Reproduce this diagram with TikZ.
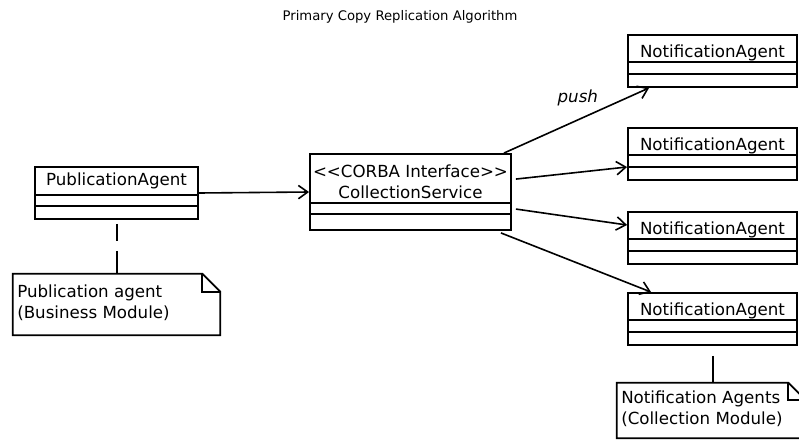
\documentclass[tikz,border=0pt]{standalone}
\usepackage{fontspec}
\setmainfont{DejaVu Sans}
\usetikzlibrary{arrows.meta,calc}
\begin{document}
\begin{tikzpicture}[x=0.75pt,y=-0.75pt,
  classbox/.style={draw,line width=1.4pt,minimum width=#1,inner sep=0pt,minimum height=39pt},
  notebox/.style={inner sep=0pt},
  lbl/.style={inner sep=0pt,font=\fontsize{12.5}{15.8}\selectfont},
  ttl/.style={inner sep=0pt,font=\fontsize{9.9}{12}\selectfont},
  comp/.style={line width=1.3pt},
  assoc/.style={line width=1.2pt,-{Straight Barb[length=7pt,width=10pt]}},
  anchorline/.style={line width=1.5pt}
]
\useasboundingbox (0,0) rectangle (799,439);
\fill[white] (0,0) rectangle (799,439);

% title
\node[ttl] (title) at (400,17) {Primary Copy Replication Algorithm};

% PublicationAgent
\node[classbox=122.25pt] (pa) at (116.5,193) {};
\node[lbl] (pat) at (116.5,181) {PublicationAgent};
\draw[comp] ($(pa.north west)+(0,29)$) -- ($(pa.north east)+(0,29)$);
\draw[comp] ($(pa.north west)+(0,40)$) -- ($(pa.north east)+(0,40)$);

% CollectionService
\node[classbox=150.75pt,minimum height=57pt] (cs) at (410.5,192) {};
\node[lbl,align=center] (cst) at (410.5,182) {{<}{<}CORBA Interface{>}{>}\\CollectionService};
\draw[comp] ($(cs.north west)+(0,50)$) -- ($(cs.north east)+(0,50)$);
\draw[comp] ($(cs.north west)+(0,61)$) -- ($(cs.north east)+(0,61)$);

% NotificationAgents
\foreach \n/\t in {1/35,2/128,3/212,4/293}{
  \node[classbox=126.75pt] (na\n) at (712.5,\t+26) {};
  \node[lbl] (na\n t) at (712.5,\t+18) {NotificationAgent};
  \draw[comp] ($(na\n.north west)+(0,28)$) -- ($(na\n.north east)+(0,28)$);
  \draw[comp] ($(na\n.north west)+(0,40)$) -- ($(na\n.north east)+(0,40)$);
}

% note 1
\node[notebox,minimum width=155.25pt,minimum height=45.75pt] (n1) at (116.5,304.5) {};
\draw[comp] (n1.north west) -- ($(n1.north east)+(-18,0)$) -- ($(n1.north east)+(0,18)$)
  -- (n1.south east) -- (n1.south west) -- cycle;
\draw[comp] ($(n1.north east)+(-18,0)$) -- ($(n1.north east)+(-18,18)$) -- ($(n1.north east)+(0,18)$);
\node[lbl,align=left,anchor=west] (n1t) at (17,302.5) {Publication agent\\(Business Module)};

% note 2
\node[notebox,minimum width=141pt,minimum height=41.25pt] (n2) at (711,410.5) {};
\draw[comp] (n2.north west) -- ($(n2.north east)+(-17,0)$) -- ($(n2.north east)+(0,17)$)
  -- (n2.south east) -- (n2.south west) -- cycle;
\draw[comp] ($(n2.north east)+(-17,0)$) -- ($(n2.north east)+(-17,17)$) -- ($(n2.north east)+(0,17)$);
\node[lbl,align=left,anchor=west] (n2t) at (621,409) {Notification Agents\\(Collection Module)};

% note anchors
\draw[anchorline,dash pattern=on 0pt off 3pt on 12.75pt off 7.5pt on 30pt] (pa.south) -- (n1.north);
\draw[anchorline,dash pattern=on 0pt off 7.5pt on 30pt] (na4.south) -- (na4.south |- n2.north);

% associations
\draw[assoc] (pa.east) -- (cs.west);
\draw[assoc] ($(cs.north east)+(-8,0)$) -- ($(na1.south west)+(22,0)$)
  node[pos=0.5,above=10pt,xshift=1pt,lbl,font=\fontsize{12.5}{15}\selectfont\itshape] (push) {push};
\draw[assoc] ($(cs.north east)+(4,26)$) -- ($(na2.west)+(0,13)$);
\draw[assoc] ($(cs.north east)+(4,56)$) -- ($(na3.west)+(0,-13)$);
\draw[assoc] ($(cs.south east)+(-11,2)$) -- ($(na4.north west)+(24,0)$);
\end{tikzpicture}
\end{document}
